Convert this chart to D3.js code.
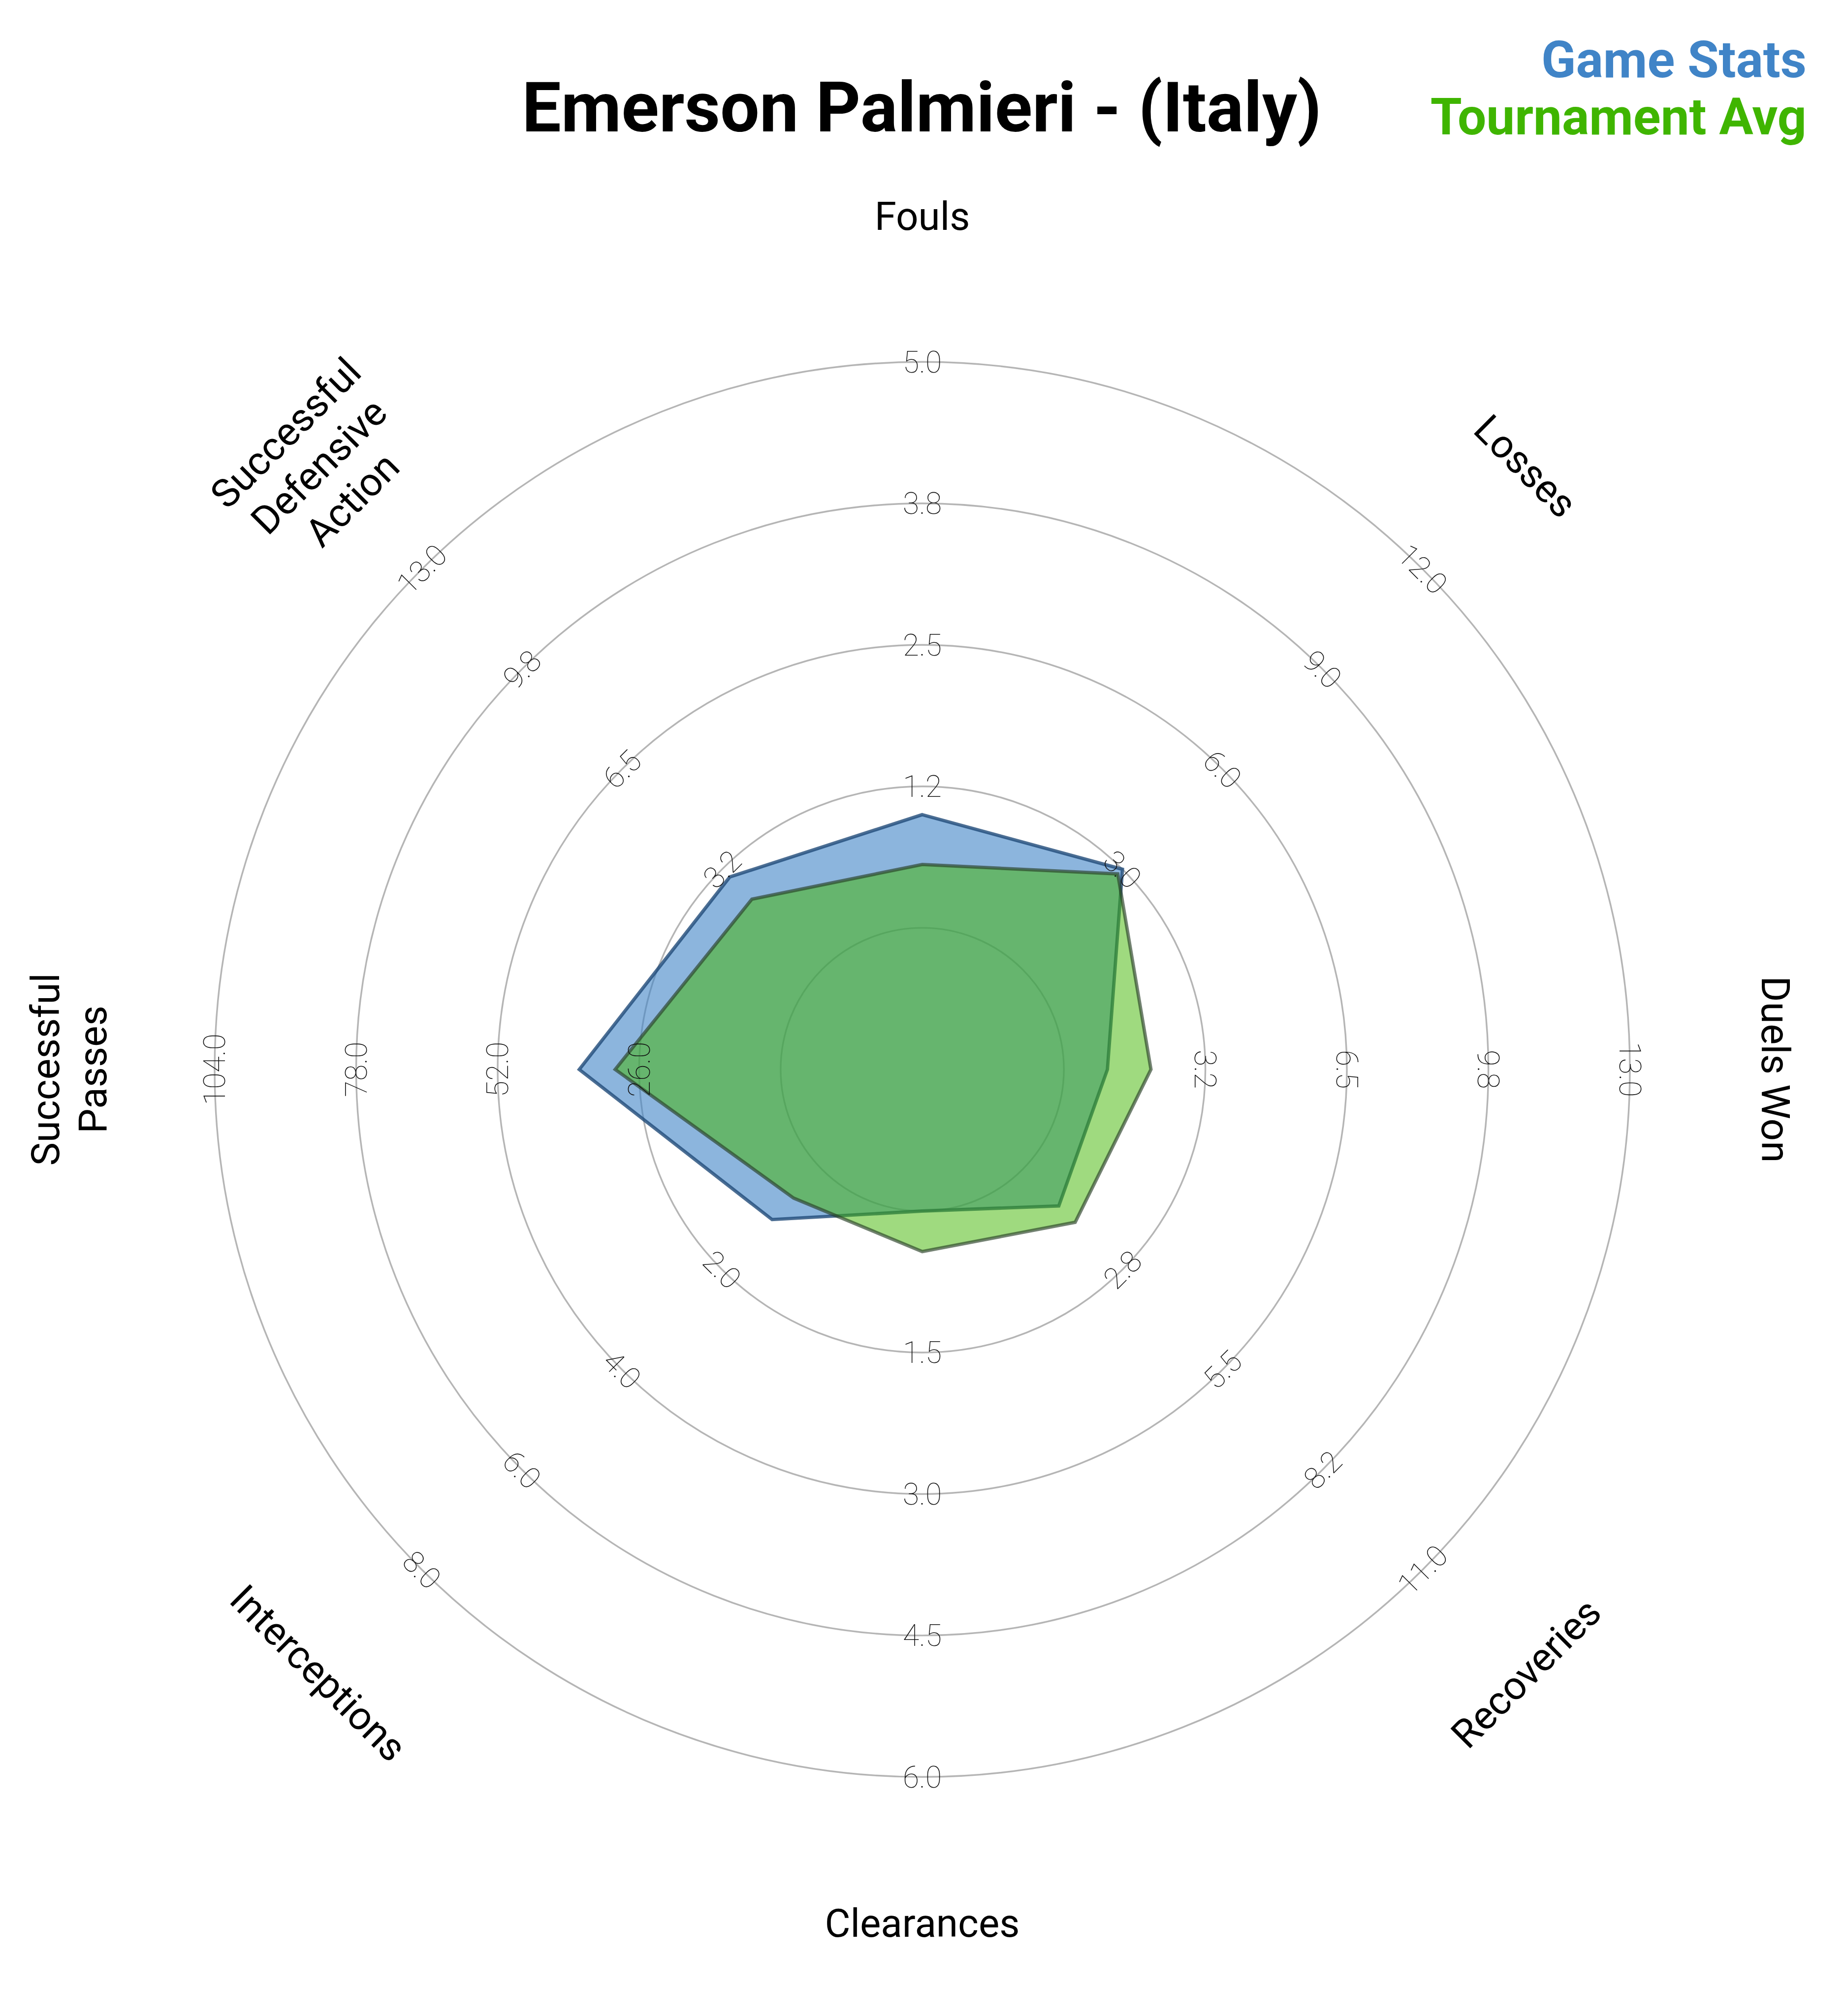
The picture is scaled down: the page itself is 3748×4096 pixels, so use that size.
<!DOCTYPE html>
<html>
<head>
<meta charset="utf-8">
<script src="https://d3js.org/d3.v7.min.js"></script>
<style>
  html, body { margin: 0; padding: 0; background: #ffffff; }
  svg { display: block; }
</style>
</head>
<body>
<script>
// ---------- DATA ----------
const titleText = "Emerson Palmieri - (Italy)";
const seriesNames = ["Game Stats", "Tournament Avg"];
const categories = ["Fouls", "Losses", "Duels Won", "Recoveries", "Clearances",
  "Interceptions", "Successful\nPasses", "Successful\nDefensive\nAction"];
const rangeMin = [0, 0, 0, 0, 0, 0, 0, 0];
const rangeMax = [5, 12, 13, 11, 6, 8, 104, 13];
const gameStats = [1, 3, 1, 1, 0, 1, 37, 3];
const tournamentAvg = [0.56, 2.86, 2.0, 1.45, 0.43, 0.57, 30.4, 2.28];
const tickLabels = [
  ["1.2", "2.5", "3.8", "5.0"],
  ["3.0", "6.0", "9.0", "12.0"],
  ["3.2", "6.5", "9.8", "13.0"],
  ["2.8", "5.5", "8.2", "11.0"],
  ["1.5", "3.0", "4.5", "6.0"],
  ["2.0", "4.0", "6.0", "8.0"],
  ["26.0", "52.0", "78.0", "104.0"],
  ["3.2", "6.5", "9.8", "13.0"]
];

// ---------- LAYOUT (reference pixel space, scaled by viewBox) ----------
const W = 3843, H = 4200;
const cx = 1921, cy = 2228;
const rInner = 295, rOuter = 1474;
const nRings = 4;
const labelRadius = 1778;
const colors = ["#4084c7", "#3fb500"];

const svg = d3.select("body").append("svg")
  .attr("width", 3748).attr("height", 4096)
  .attr("viewBox", `0 0 ${W} ${H}`);

svg.append("rect").attr("width", W).attr("height", H).attr("fill", "#ffffff");

const g = svg.append("g").attr("transform", `translate(${cx},${cy})`);

const n = categories.length;
const angle = d3.scaleLinear().domain([0, n]).range([0, 2 * Math.PI]);
const rScales = categories.map((c, i) =>
  d3.scaleLinear().domain([rangeMin[i], rangeMax[i]]).range([rInner, rOuter]));
const ringR = d3.scaleLinear().domain([0, nRings]).range([rInner, rOuter]);

// rings
g.append("g").selectAll("circle")
  .data(d3.range(0, nRings + 1))
  .join("circle")
  .attr("r", d => ringR(d))
  .attr("fill", "none")
  .attr("stroke", "#b5b5b5")
  .attr("stroke-width", 3.5);

// polygons
const radial = (vals) => d3.lineRadial()
  .angle((d, i) => angle(i))
  .radius((d, i) => rScales[i](d))
  .curve(d3.curveLinearClosed)(vals);

g.append("path")
  .attr("d", radial(gameStats))
  .attr("fill", colors[0]).attr("fill-opacity", 0.6)
  .attr("stroke", "#1f4a78").attr("stroke-opacity", 0.8)
  .attr("stroke-width", 7).attr("stroke-linejoin", "miter");

g.append("path")
  .attr("d", radial(tournamentAvg))
  .attr("fill", colors[1]).attr("fill-opacity", 0.5)
  .attr("stroke", "#283f26").attr("stroke-opacity", 0.65)
  .attr("stroke-width", 7).attr("stroke-linejoin", "miter");

// rotation rule for text
function rotFor(deg) {
  if (deg <= 90) return deg;
  if (deg < 270) return deg - 180;
  return deg - 360;
}

// tick labels
const tickG = g.append("g");
categories.forEach((c, i) => {
  const a = angle(i);
  const deg = a * 180 / Math.PI;
  tickLabels[i].forEach((t, k) => {
    const r = ringR(k + 1);
    const x = r * Math.sin(a), y = -r * Math.cos(a);
    tickG.append("text")
      .attr("transform", `translate(${x},${y}) rotate(${rotFor(deg)})`)
      .attr("text-anchor", "middle")
      .attr("dy", "0.355em")
      .attr("font-family", "Roboto, 'Open Sans', sans-serif")
      .attr("font-weight", 100)
      .attr("font-size", 62)
      .attr("fill", "#111111")
      .text(t);
  });
});

// category labels
const fsLab = 82, lh = 98;
const labG = g.append("g");
categories.forEach((c, i) => {
  const a = angle(i);
  const deg = a * 180 / Math.PI;
  const x = labelRadius * Math.sin(a), y = -labelRadius * Math.cos(a);
  const lines = c.split("\n");
  const t = labG.append("text")
    .attr("transform", `translate(${x},${y}) rotate(${rotFor(deg)})`)
    .attr("text-anchor", "middle")
    .attr("font-family", "Roboto, 'Open Sans', sans-serif")
    .attr("font-weight", 400)
    .attr("font-size", fsLab)
    .attr("fill", "#000000");
  lines.forEach((ln, j) => {
    t.append("tspan")
      .attr("x", 0)
      .attr("y", (j - (lines.length - 1) / 2) * lh + 0.355 * fsLab)
      .text(ln);
  });
});

// title
svg.append("text")
  .attr("x", 1920).attr("y", 274)
  .attr("text-anchor", "middle")
  .attr("font-family", "Roboto, sans-serif")
  .attr("font-weight", 700)
  .attr("font-size", 145)
  .attr("fill", "#000000")
  .text(titleText);

// legend
const legendY = [161, 280];
seriesNames.forEach((s, i) => {
  svg.append("text")
    .attr("x", 3763).attr("y", legendY[i])
    .attr("text-anchor", "end")
    .attr("font-family", "Roboto, sans-serif")
    .attr("font-weight", 700)
    .attr("font-size", 106)
    .attr("fill", colors[i])
    .text(s);
});
</script>
</body>
</html>
